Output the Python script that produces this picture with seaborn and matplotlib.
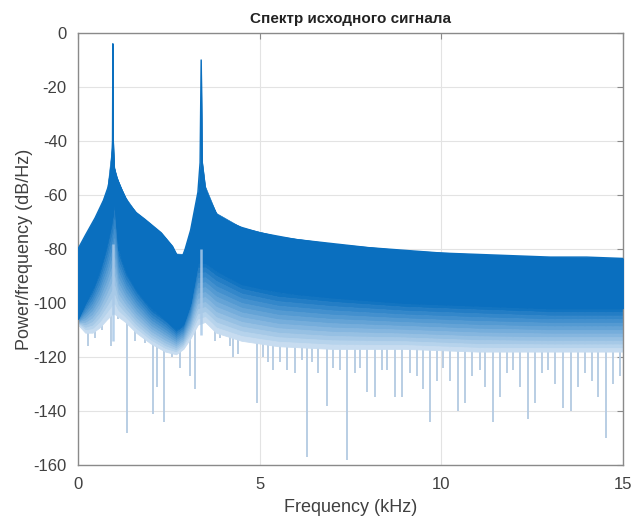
import numpy as np
import pandas as pd
import matplotlib
matplotlib.use("Agg")
from matplotlib import pyplot as plt
from matplotlib.colors import to_rgb
import seaborn as sns

# upper edge of the spectrum (kHz, dB/Hz), incl. the two tone peaks
env_freq = [0.0, 0.2, 0.47, 0.7, 0.83, 0.92, 0.95, 0.96, 0.97, 1.0, 1.05, 1.2, 1.38, 1.6,
            1.84, 2.29, 2.6, 2.75, 2.84, 2.95, 3.1, 3.3, 3.36, 3.39, 3.42, 3.52, 3.85, 4.13,
            4.5, 5.0, 6.0, 7.0, 8.0, 9.0, 10.0, 11.0, 12.0, 13.0, 14.0, 15.0]
env_upper = [-80, -75, -68.5, -62, -57, -50, -40, -4, -40, -50, -53, -58, -63, -66.5,
             -69, -74, -79, -83, -84, -80, -73, -59, -48, -10, -48, -59, -68, -70,
             -72, -74, -76.5, -78, -79.5, -80.5, -81.5, -82, -82.5, -83, -83, -83.5]

# bottom of the solid band and of the faded band
band_freq = [0.0, 0.2, 0.4, 0.6, 0.8, 0.95, 1.0, 1.1, 1.3, 1.6, 2.0, 2.4, 2.7, 2.9,
             3.1, 3.3, 3.5, 3.8, 4.5, 5.5, 7.0, 9.0, 11.0, 13.0, 15.0]
dark_low = [-106, -100, -95, -88, -78, -68, -62, -80, -88, -95, -102, -106, -110, -108,
            -100, -85, -85, -88, -93, -96, -98, -100, -101, -102, -102]
light_low = [-108, -111, -111, -109, -106, -104, -104, -105, -107, -111, -115, -118, -119, -117,
             -113, -108, -107, -111, -114, -116, -117, -117, -118, -118, -118]

# pale stripes just under the two peaks
stripe_freq = [0.96, 3.39]
stripe_top = [-78, -80]
stripe_bottom = [-114, -112]

# single deep dips below the band
dip_freq = [0.11, 0.27, 0.47, 0.66, 0.91, 1.10, 1.35, 1.49, 1.57, 1.71, 1.84, 2.06, 2.17,
            2.37, 2.59, 2.81, 2.95, 3.08, 3.22, 3.77, 3.91, 4.18, 4.27, 4.40, 4.60, 4.79,
            4.93, 5.09, 5.23, 5.37, 5.56, 5.75, 5.97, 6.17, 6.30, 6.44, 6.61, 6.85, 7.02,
            7.21, 7.40, 7.62, 7.76, 7.95, 8.18, 8.37, 8.51, 8.73, 8.92, 9.14, 9.33, 9.50,
            9.69, 9.88, 10.05, 10.24, 10.46, 10.65, 10.84, 11.07, 11.20, 11.42, 11.62, 11.81,
            11.97, 12.17, 12.39, 12.58, 12.77, 12.94, 13.13, 13.35, 13.57, 13.76, 13.96,
            14.15, 14.31, 14.53, 14.73, 14.92]
dip_db = [-106, -116, -113, -110, -116, -106, -148, -105, -114, -110, -115, -141, -131,
          -144, -120, -124, -110, -127, -132, -114, -113, -116, -120, -119, -114, -113,
          -137, -120, -122, -125, -122, -125, -126, -121, -157, -122, -126, -138, -124,
          -125, -158, -126, -124, -133, -135, -125, -125, -135, -135, -126, -127, -132,
          -144, -129, -124, -129, -140, -137, -127, -125, -131, -144, -135, -126,
          -125, -131, -143, -137, -126, -125, -130, -139, -140, -131, -126,
          -129, -135, -150, -130, -127]

x_ticks = [0, 5, 10, 15]
y_ticks = [0, -20, -40, -60, -80, -100, -120, -140, -160]

sns.set_theme(style="white")
plt.rcParams["font.family"] = ["Liberation Sans", "DejaVu Sans"]

fig = plt.figure(figsize=(6.33, 5.25), dpi=100)
ax = fig.add_axes([0.1232, 0.1143, 0.861, 0.8229])

dark = "#0a6fbf"
light = "#cfe1f2"

# faded band, drawn in steps from solid blue to pale blue
bf = np.array(band_freq, dtype=float)
d_low = np.array(dark_low, dtype=float)
l_low = np.array(light_low, dtype=float)
steps = 12
c0, c1 = np.array(to_rgb(dark)), np.array(to_rgb(light))
for i in range(steps):
    t0, t1 = i / steps, (i + 1) / steps
    col = c0 + (c1 - c0) * (t0 + t1) / 2
    ax.fill_between(bf, d_low + t0 * (l_low - d_low), d_low + t1 * (l_low - d_low),
                    facecolor=col, edgecolor=col, lw=0.6, zorder=2)

# dips
band_at_dip = np.interp(dip_freq, band_freq, dark_low)
ax.vlines(dip_freq, dip_db, band_at_dip, color="#b3cae2", lw=1.3, zorder=1.5)

# solid band from upper edge to its bottom
ax.fill_between(env_freq, np.interp(env_freq, band_freq, dark_low), env_upper,
                facecolor=dark, edgecolor=dark, lw=0.4, zorder=3)
ax.fill_between(band_freq, dark_low, np.interp(band_freq, env_freq, env_upper),
                facecolor=dark, edgecolor=dark, lw=0.4, zorder=3)
df = pd.DataFrame({"f": env_freq, "p": env_upper})
sns.lineplot(data=df, x="f", y="p", color=dark, lw=1.0, ax=ax, zorder=4)

ax.vlines(stripe_freq, stripe_bottom, stripe_top, color="#a9c9e8", lw=1.8,
          alpha=0.85, zorder=3.5)

ax.set_xlim(0, 15)
ax.set_ylim(-160, 0)
ax.set_xticks(x_ticks)
ax.set_yticks(y_ticks)
ax.set_xticklabels([str(v) for v in x_ticks])
ax.set_yticklabels([str(v) for v in y_ticks])
ax.grid(True, color="#e3e3e3", lw=0.8, zorder=0)
ax.set_axisbelow(True)
for s in ax.spines.values():
    s.set_color("#8a8a8a")
    s.set_linewidth(1.0)
ax.tick_params(direction="in", top=True, right=True, length=4, width=0.8,
               color="#8a8a8a", labelsize=12, labelcolor="#404040")
ax.tick_params(axis="x", pad=9)
ax.tick_params(axis="y", pad=8)

ax.set_title("Спектр исходного сигнала", fontsize=11, fontweight="bold",
             color="#222222", pad=7)
ax.set_xlabel("Frequency (kHz)", fontsize=13, color="#404040", labelpad=5)
ax.set_ylabel("Power/frequency (dB/Hz)", fontsize=13, color="#404040", labelpad=0)

fig.savefig("out.png", dpi=100)
